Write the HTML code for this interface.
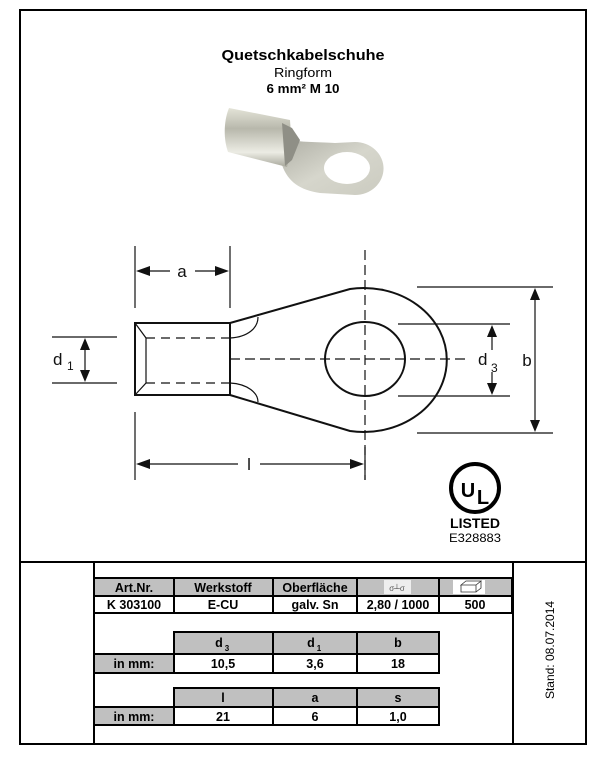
<!DOCTYPE html>
<html><head><meta charset="utf-8"><style>
html,body{margin:0;padding:0;background:#fff;}
body{width:604px;height:767px;overflow:hidden;font-family:"Liberation Sans",Arial,sans-serif;}
</style></head><body>
<svg width="604" height="767" viewBox="0 0 604 767" xmlns="http://www.w3.org/2000/svg" font-family="Liberation Sans, Arial, sans-serif">
<defs>
<linearGradient id="bar" x1="0" y1="0" x2="0" y2="1">
<stop offset="0" stop-color="#e4e4d8"/><stop offset="0.35" stop-color="#b8b8ac"/><stop offset="0.75" stop-color="#ecece4"/><stop offset="1" stop-color="#a8a89c"/></linearGradient>
<linearGradient id="ring" x1="0" y1="0" x2="1" y2="1">
<stop offset="0" stop-color="#b0b0a6"/><stop offset="0.5" stop-color="#d6d6cc"/><stop offset="1" stop-color="#cbcbc0"/></linearGradient>
</defs>
<rect x="20" y="10" width="566" height="734" fill="none" stroke="#000" stroke-width="2"/>
<line x1="20" y1="562" x2="586" y2="562" stroke="#000" stroke-width="2"/>
<line x1="94" y1="562" x2="94" y2="744" stroke="#000" stroke-width="2"/>
<line x1="513" y1="562" x2="513" y2="744" stroke="#000" stroke-width="2"/>
<text x="303" y="60" text-anchor="middle" font-size="15" font-weight="bold" textLength="163" lengthAdjust="spacingAndGlyphs">Quetschkabelschuhe</text>
<text x="303" y="77" text-anchor="middle" font-size="12.5" textLength="58" lengthAdjust="spacingAndGlyphs">Ringform</text>
<text x="303" y="93" text-anchor="middle" font-size="12.5" font-weight="bold" textLength="73" lengthAdjust="spacingAndGlyphs">6 mm²  M 10</text>
<path d="M290,140 C300,142 315,142 335,143 L355,142 A28,26 0 0 1 355,195 L320,193 C300,190 288,182 282,165 Z" fill="url(#ring)"/>
<ellipse cx="347" cy="168" rx="23" ry="16" fill="#fff"/>
<path d="M229,108 L290,120 L292,150 L287,167 L228,152 C223,138 224,120 229,108 Z" fill="url(#bar)"/>
<path d="M282,123 L292,128 L300,140 L292,160 L285,166 Z" fill="#8f8f86"/>
<g fill="none" stroke="#111" stroke-width="2">
<rect x="135" y="323" width="95" height="72"/>
<path d="M230,323 L350,289 A83,72 0 1 1 350,431 L230,395"/>
<ellipse cx="365" cy="359" rx="40" ry="37"/>
</g>
<g fill="none" stroke="#111" stroke-width="1.2">
<path d="M135,323 L146,338 L146,383 L135,395"/>
<path d="M230,338 C248,337 258,328 258,317"/>
<path d="M230,383 C248,384 258,393 258,402"/>
<path d="M146,338 H230 M146,383 H230" stroke-dasharray="9,6"/>
<path d="M230,359 H470" stroke-dasharray="10,5"/>
<path d="M365,250 V480" stroke-dasharray="10,5"/>
<path d="M135,246 V308 M230,246 V308 M135,412 V480 M365,447 V480"/>
<path d="M52,337 H117 M52,383 H117"/>
<path d="M398,324 H510 M398,396 H510"/>
<path d="M417,287 H553 M417,433 H553"/>
<path d="M140,271 H170 M195,271 H225"/>
<path d="M140,464 H238 M260,464 H360"/>
<path d="M85,343 V377"/>
<path d="M492,330 V350 M492,372 V390"/>
<path d="M535,293 V427"/>
</g>
<g fill="#111">
<path d="M136,271 L150,266 L150,276Z M229,271 L215,266 L215,276Z"/>
<path d="M136,464 L150,459 L150,469Z M364,464 L350,459 L350,469Z"/>
<path d="M85,338 L80,350 L90,350Z M85,382 L80,370 L90,370Z"/>
<path d="M492,325 L487,337 L497,337Z M492,395 L487,383 L497,383Z"/>
<path d="M535,288 L530,300 L540,300Z M535,432 L530,420 L540,420Z"/>
</g>
<g font-size="17" fill="#111">
<text x="182" y="277" text-anchor="middle">a</text>
<text x="249" y="470" text-anchor="middle">l</text>
<text x="53" y="365">d</text><text x="67" y="370" font-size="12">1</text>
<text x="478" y="365">d</text><text x="491" y="372" font-size="12">3</text>
<text x="527" y="366" text-anchor="middle">b</text>
</g>
<circle cx="475" cy="488" r="24" fill="none" stroke="#000" stroke-width="4"/>
<text x="468" y="497" text-anchor="middle" font-size="20" font-weight="bold">U</text>
<text x="483" y="504" text-anchor="middle" font-size="20" font-weight="bold">L</text>
<text x="475" y="528" text-anchor="middle" font-size="14" font-weight="bold" textLength="50" lengthAdjust="spacingAndGlyphs">LISTED</text>
<text x="475" y="542" text-anchor="middle" font-size="12" textLength="52" lengthAdjust="spacingAndGlyphs">E328883</text>
<g stroke="#000" stroke-width="2">
<rect x="94" y="578" width="418" height="18" fill="#c0c0c0"/>
<rect x="94" y="596" width="418" height="17" fill="#fff"/>
<line x1="174" y1="578" x2="174" y2="613"/><line x1="273" y1="578" x2="273" y2="613"/>
<line x1="357" y1="578" x2="357" y2="613"/><line x1="439" y1="578" x2="439" y2="613"/>
<rect x="174" y="632" width="265" height="22" fill="#c0c0c0"/>
<rect x="94" y="654" width="80" height="19" fill="#c0c0c0"/>
<rect x="174" y="654" width="265" height="19" fill="#fff"/>
<line x1="273" y1="632" x2="273" y2="673"/><line x1="357" y1="632" x2="357" y2="673"/>
<rect x="174" y="688" width="265" height="19" fill="#c0c0c0"/>
<rect x="94" y="707" width="80" height="18" fill="#c0c0c0"/>
<rect x="174" y="707" width="265" height="18" fill="#fff"/>
<line x1="273" y1="688" x2="273" y2="725"/><line x1="357" y1="688" x2="357" y2="725"/>
</g>
<rect x="453" y="580" width="32" height="14" fill="#fff"/>
<path d="M461,585 L466,581 L481,581 L476,585 Z M461,585 V592 H476 V585 M476,592 L481,588 V581" fill="none" stroke="#333" stroke-width="0.8"/>
<rect x="384" y="580" width="27" height="14" fill="#eee"/>
<text x="397" y="591" text-anchor="middle" font-size="8" fill="#555">σ┴σ</text>
<g font-size="12.5" font-weight="bold" text-anchor="middle">
<text x="134" y="592">Art.Nr.</text><text x="223" y="592">Werkstoff</text><text x="315" y="592">Oberfläche</text>
<text x="134" y="609">K 303100</text><text x="223" y="609">E-CU</text><text x="315" y="609">galv. Sn</text><text x="398" y="609">2,80 / 1000</text><text x="475" y="609">500</text>
<text x="219" y="647">d</text><text x="227" y="651" font-size="8">3</text>
<text x="311" y="647">d</text><text x="319" y="651" font-size="8">1</text>
<text x="398" y="647">b</text>
<text x="134" y="668">in mm:</text><text x="223" y="668">10,5</text><text x="315" y="668">3,6</text><text x="398" y="668">18</text>
<text x="223" y="702">l</text><text x="315" y="702">a</text><text x="398" y="702">s</text>
<text x="134" y="721">in mm:</text><text x="223" y="721">21</text><text x="315" y="721">6</text><text x="398" y="721">1,0</text>
</g>
<text transform="translate(554,650) rotate(-90)" text-anchor="middle" font-size="12">Stand: 08.07.2014</text>
</svg>
</body></html>
